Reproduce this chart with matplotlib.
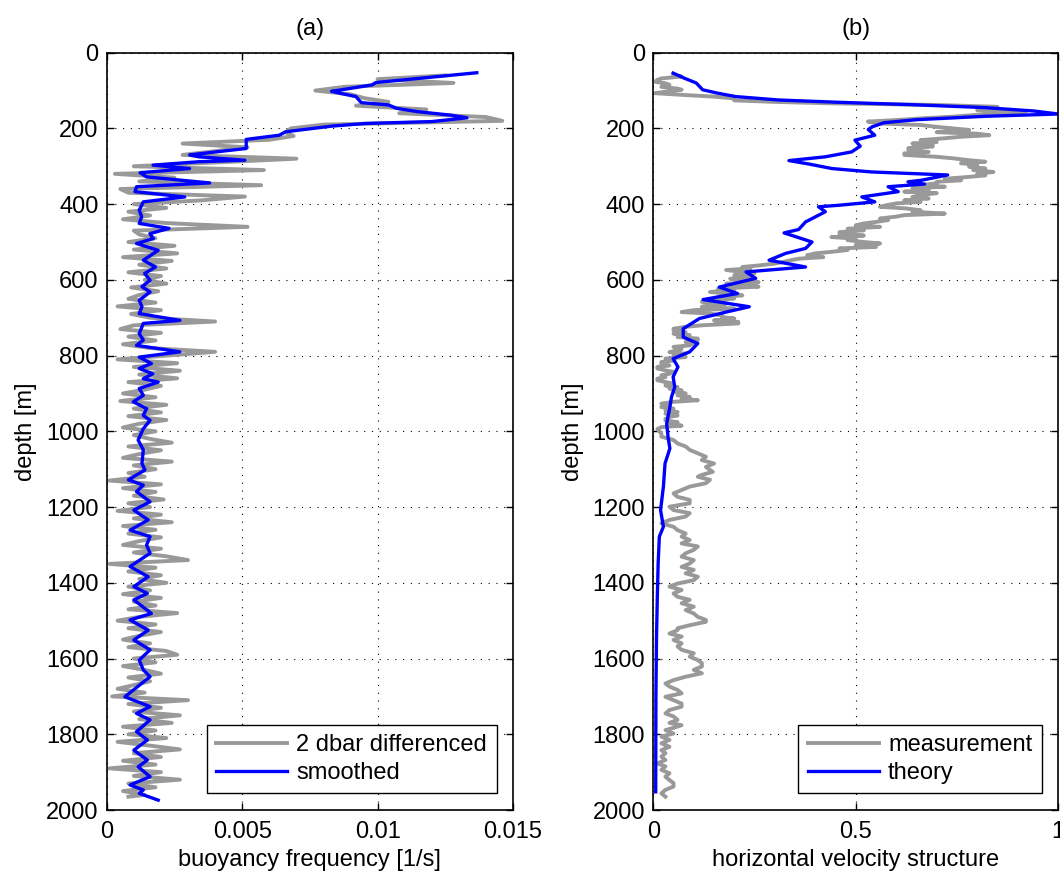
import numpy as np
import matplotlib
matplotlib.use("Agg")
import matplotlib.pyplot as plt

plt.rcParams['font.family'] = ['Liberation Sans', 'DejaVu Sans']
plt.rcParams['font.size'] = 17

# (a) buoyancy frequency, 2 dbar differenced
n_raw_depth = [60, 70, 80, 90, 100, 110, 120, 130, 140, 150, 160, 170, 180, 190, 200,
               210, 220, 230, 240, 250, 260, 270, 280, 290, 300, 310, 320, 330, 340, 350,
               360, 370, 380, 390, 400, 410, 420, 430, 440, 450, 460, 470, 480, 490, 500,
               510, 520, 530, 540, 550, 560, 570, 580, 590, 600, 610, 620, 630, 640, 650,
               660, 670, 680, 690, 700, 710, 720, 730, 740, 750, 760, 770, 780, 790, 800,
               810, 820, 830, 840, 850, 860, 870, 880, 890, 900, 910, 920, 930, 940, 950,
               960, 970, 980, 990, 1000, 1010, 1020, 1030, 1040, 1050, 1060, 1070, 1080,
               1090, 1100, 1110, 1120, 1130, 1140, 1150, 1160, 1170, 1180, 1190, 1200,
               1210, 1220, 1230, 1240, 1250, 1260, 1270, 1280, 1290, 1300, 1310, 1320,
               1330, 1340, 1350, 1360, 1370, 1380, 1390, 1400, 1410, 1420, 1430, 1440,
               1450, 1460, 1470, 1480, 1490, 1500, 1510, 1520, 1530, 1540, 1550, 1560,
               1570, 1580, 1590, 1600, 1610, 1620, 1630, 1640, 1650, 1660, 1670, 1680,
               1690, 1700, 1710, 1720, 1730, 1740, 1750, 1760, 1770, 1780, 1790, 1800,
               1810, 1820, 1830, 1840, 1850, 1860, 1870, 1880, 1890, 1900, 1910, 1920,
               1930, 1940, 1950, 1960, 1965]
n_raw = [0.0125, 0.0100, 0.0128, 0.0088, 0.0077, 0.0090, 0.0095, 0.0104, 0.0092, 0.0118,
         0.0108, 0.0140, 0.0146, 0.0080, 0.0068, 0.0066, 0.0069, 0.0060, 0.0028, 0.0052,
         0.0040, 0.0028, 0.0070, 0.0040, 0.0010, 0.0058, 0.0003, 0.0025, 0.0012, 0.0057,
         0.0005, 0.0008, 0.0051, 0.0035, 0.0010, 0.0022, 0.0008, 0.0016, 0.0006, 0.0022,
         0.0052, 0.0010, 0.0012, 0.0018, 0.0008, 0.0025, 0.0010, 0.0026, 0.0006, 0.0024,
         0.0012, 0.0022, 0.0008, 0.0020, 0.0014, 0.0022, 0.0009, 0.0019, 0.0012, 0.0008,
         0.0018, 0.0004, 0.0020, 0.0009, 0.0016, 0.0040, 0.0010, 0.0005, 0.0020, 0.0008,
         0.0018, 0.0006, 0.0016, 0.0040, 0.0022, 0.0004, 0.0026, 0.0010, 0.0027, 0.0012,
         0.0026, 0.0008, 0.0020, 0.0014, 0.0006, 0.0018, 0.0005, 0.0022, 0.0010, 0.0020,
         0.0008, 0.0022, 0.0012, 0.0006, 0.0018, 0.0010, 0.0016, 0.0024, 0.0008, 0.0020,
         0.0012, 0.0006, 0.0024, 0.0010, 0.0018, 0.0008, 0.0014, 0.0001, 0.0020, 0.0006,
         0.0018, 0.0010, 0.0021, 0.0008, 0.0016, 0.0004, 0.0020, 0.0010, 0.0024, 0.0006,
         0.0018, 0.0008, 0.0020, 0.0012, 0.0006, 0.0020, 0.0010, 0.0022, 0.0030, 0.0001,
         0.0018, 0.0008, 0.0020, 0.0012, 0.0022, 0.0008, 0.0016, 0.0006, 0.0020, 0.0010,
         0.0018, 0.0008, 0.0026, 0.0012, 0.0004, 0.0018, 0.0008, 0.0020, 0.0012, 0.0006,
         0.0016, 0.0008, 0.0022, 0.0026, 0.0010, 0.0018, 0.0006, 0.0014, 0.0020, 0.0008,
         0.0016, 0.0010, 0.0004, 0.0014, 0.0002, 0.0030, 0.0008, 0.0020, 0.0010, 0.0027,
         0.0012, 0.0024, 0.0006, 0.0018, 0.0008, 0.0022, 0.0004, 0.0016, 0.0027, 0.0010,
         0.0020, 0.0006, 0.0018, 0.0001, 0.0020, 0.0010, 0.0027, 0.0008, 0.0018, 0.0006,
         0.0014, 0.0008]

# (a) smoothed
n_smooth_depth = [53, 79, 85, 99, 102, 107, 116, 125, 132, 138, 147, 156, 165, 172, 182,
                  187, 194, 209, 218, 229, 240, 253, 270, 275, 284, 288, 297, 306, 317, 328,
                  344, 354, 367, 381, 394, 403, 416, 433, 451, 464, 478, 491, 504, 522, 548,
                  566, 583, 601, 618, 632, 654, 671, 689, 707, 715, 742, 759, 773, 790, 804,
                  821, 834, 848, 861, 870, 887, 905, 922, 940, 958, 971, 993, 1023, 1049,
                  1085, 1102, 1128, 1142, 1159, 1186, 1208, 1234, 1261, 1278, 1300, 1322,
                  1357, 1384, 1410, 1428, 1445, 1481, 1498, 1525, 1551, 1577, 1604, 1630,
                  1648, 1701, 1727, 1745, 1762, 1793, 1815, 1842, 1868, 1886, 1912, 1934,
                  1947, 1956, 1974]
n_smooth = [0.01366, 0.00993, 0.0098, 0.00858, 0.0083, 0.0086, 0.0092, 0.00931, 0.0094,
            0.0104, 0.0107, 0.0115, 0.0127, 0.0133, 0.0120, 0.00956, 0.0083, 0.0066,
            0.00637, 0.00515, 0.00515, 0.00515, 0.00306, 0.0034, 0.0051, 0.0034, 0.00171,
            0.00306, 0.00123, 0.00147, 0.0038, 0.0011, 0.00104, 0.00288, 0.00135, 0.00129,
            0.0012, 0.00129, 0.0012, 0.0023, 0.00159, 0.00172, 0.0011, 0.0019, 0.00135,
            0.0018, 0.0014, 0.0016, 0.0013, 0.0016, 0.0012, 0.0013, 0.0012, 0.0027,
            0.00135, 0.0012, 0.00135, 0.0011, 0.0027, 0.0012, 0.00165, 0.0012, 0.0017,
            0.00135, 0.0019, 0.0012, 0.00135, 0.00098, 0.00147, 0.00135, 0.0016, 0.00135,
            0.00116, 0.00135, 0.0013, 0.00141, 0.0008, 0.00135, 0.0011, 0.0016, 0.001,
            0.00153, 0.00086, 0.0016, 0.00147, 0.0016, 0.00086, 0.00153, 0.001, 0.0015,
            0.001, 0.00165, 0.00086, 0.00153, 0.001, 0.0016, 0.0012, 0.00135, 0.0016,
            0.00067, 0.0016, 0.0011, 0.0016, 0.0011, 0.0015, 0.001, 0.0015, 0.00116,
            0.0016, 0.00086, 0.00135, 0.0012, 0.0019]

# (b) measured horizontal velocity structure
u_meas_depth = [59, 63, 68, 72, 77, 81, 85, 90, 95, 98, 103, 107, 112, 116, 121, 126,
                130, 134, 138, 143, 148, 152, 156, 160, 164, 169, 173, 178, 182, 187, 191,
                196, 200, 204, 210, 214, 218, 222, 226, 231, 236, 240, 244, 248, 252, 257,
                262, 266, 270, 275, 279, 284, 288, 292, 296, 301, 306, 310, 315, 320, 324,
                328, 333, 337, 341, 345, 350, 354, 358, 363, 367, 371, 376, 381, 385, 390,
                394, 398, 402, 407, 411, 416, 420, 425, 429, 433, 438, 442, 447, 451, 456,
                460, 465, 469, 474, 478, 483, 487, 491, 495, 500, 504, 508, 513, 517, 521,
                526, 530, 535, 540, 544, 548, 553, 557, 562, 566, 570, 574, 579, 583, 588,
                592, 597, 601, 606, 610, 614, 618, 623, 627, 632, 636, 641, 645, 649, 654,
                658, 663, 667, 671, 676, 680, 685, 689, 694, 698, 702, 707, 711, 715, 720,
                724, 729, 733, 738, 742, 746, 751, 755, 759, 764, 768, 773, 777, 782, 786,
                791, 795, 800, 804, 808, 813, 817, 821, 826, 830, 834, 839, 843, 848, 852,
                857, 861, 865, 870, 874, 879, 883, 887, 892, 896, 900, 905, 909, 914, 918,
                922, 927, 931, 936, 940, 945, 949, 953, 958, 962, 967, 971, 976, 980, 985,
                989, 994, 1006, 1014, 1023, 1032, 1040, 1049, 1058, 1067, 1076, 1085, 1094,
                1102, 1107, 1115, 1120, 1128, 1137, 1146, 1155, 1164, 1173, 1181, 1190,
                1199, 1208, 1216, 1225, 1234, 1243, 1252, 1261, 1270, 1278, 1287, 1296,
                1304, 1313, 1322, 1331, 1340, 1349, 1358, 1366, 1375, 1384, 1393, 1402,
                1410, 1419, 1428, 1437, 1445, 1454, 1463, 1472, 1481, 1490, 1498, 1503,
                1512, 1520, 1525, 1534, 1542, 1551, 1560, 1568, 1577, 1586, 1595, 1604,
                1612, 1621, 1630, 1639, 1648, 1657, 1666, 1674, 1683, 1692, 1701, 1710,
                1719, 1727, 1736, 1745, 1753, 1762, 1770, 1776, 1783, 1789, 1798, 1806,
                1815, 1824, 1833, 1842, 1850, 1859, 1868, 1877, 1885, 1894, 1903, 1912,
                1921, 1929, 1938, 1947, 1956, 1965]
u_meas = [0.05, 0.07, 0.02, 0.01, 0.005, 0.03, 0.04, 0.02, 0.06, 0.07, 0.03, 0.005, 0.08,
          0.15, 0.20, 0.20, 0.30, 0.45, 0.70, 0.85, 0.84, 0.80, 0.92, 0.85, 0.80, 0.74,
          0.67, 0.60, 0.53, 0.56, 0.66, 0.70, 0.74, 0.78, 0.70, 0.80, 0.83, 0.76,
          0.72, 0.66, 0.70, 0.64, 0.69, 0.69, 0.63, 0.63, 0.68, 0.62, 0.62, 0.70, 0.74,
          0.78, 0.82, 0.76, 0.80, 0.78, 0.82, 0.79, 0.84, 0.80, 0.82, 0.78, 0.72, 0.76,
          0.70, 0.70, 0.66, 0.72, 0.64, 0.68, 0.62, 0.70, 0.66, 0.64, 0.68, 0.62, 0.66,
          0.60, 0.58, 0.56, 0.62, 0.66, 0.64, 0.72, 0.62, 0.60, 0.56, 0.58, 0.55, 0.52,
          0.50, 0.56, 0.48, 0.52, 0.46, 0.46, 0.52, 0.44, 0.50, 0.48, 0.52, 0.56, 0.50,
          0.55, 0.46, 0.48, 0.44, 0.40, 0.38, 0.42, 0.36, 0.34, 0.32, 0.30, 0.26, 0.22,
          0.24, 0.18, 0.22, 0.25, 0.20, 0.24, 0.19, 0.21, 0.26, 0.18, 0.24, 0.26, 0.16,
          0.20, 0.14, 0.18, 0.22, 0.16, 0.20, 0.16, 0.12, 0.18, 0.14, 0.12, 0.20, 0.10,
          0.07, 0.14, 0.17, 0.17, 0.20, 0.15, 0.21, 0.21, 0.12, 0.08, 0.05, 0.05, 0.08,
          0.05, 0.09, 0.06, 0.11, 0.11, 0.08, 0.10, 0.09, 0.05, 0.07, 0.06, 0.04, 0.08,
          0.05, 0.08, 0.03, 0.05, 0.02, 0.02, 0.04, 0.01, 0.01, 0.03, 0.05, 0.04, 0.02,
          0.03, 0.01, 0.01, 0.03, 0.05, 0.03, 0.06, 0.04, 0.07, 0.05, 0.08, 0.06, 0.09,
          0.07, 0.11, 0.05, 0.02, 0.04, 0.02, 0.05, 0.03, 0.06, 0.03, 0.06, 0.04, 0.03,
          0.03, 0.06, 0.04, 0.07, 0.02, 0.01, 0.02, 0.02, 0.05, 0.06, 0.08, 0.09, 0.11,
          0.13, 0.12, 0.15, 0.13, 0.14, 0.147, 0.12, 0.11, 0.14, 0.13, 0.09, 0.07, 0.05,
          0.06, 0.09, 0.09, 0.04, 0.05, 0.09, 0.08, 0.04, 0.02, 0.05, 0.06, 0.08, 0.07,
          0.09, 0.07, 0.11, 0.10, 0.08, 0.07, 0.10, 0.09, 0.07, 0.10, 0.08, 0.11, 0.10,
          0.06, 0.04, 0.07, 0.05, 0.06, 0.09, 0.07, 0.10, 0.08, 0.10, 0.11, 0.13, 0.13,
          0.09, 0.06, 0.06, 0.04, 0.07, 0.05, 0.07, 0.06, 0.07, 0.10, 0.09, 0.11, 0.12,
          0.12, 0.10, 0.12, 0.08, 0.05, 0.03, 0.04, 0.06, 0.07, 0.03, 0.05, 0.07, 0.07,
          0.04, 0.03, 0.05, 0.06, 0.04, 0.07, 0.05, 0.03, 0.05, 0.02, 0.04, 0.02, 0.04,
          0.02, 0.03, 0.02, 0.03, 0.01, 0.03, 0.02, 0.04, 0.03, 0.04, 0.05, 0.05, 0.03,
          0.02, 0.03]

# (b) theory
u_theory_depth = [54, 68, 80, 98, 107, 116, 125, 131, 138, 145, 154, 162, 168, 177, 185,
                  196, 203, 218, 231, 247, 262, 275, 285, 294, 306, 315, 323, 337, 341, 347,
                  354, 367, 381, 394, 403, 407, 420, 447, 467, 476, 500, 517, 530, 548, 566,
                  579, 596, 619, 636, 652, 671, 685, 702, 729, 751, 768, 790, 808, 830, 856,
                  883, 909, 936, 980, 1019, 1045, 1085, 1146, 1208, 1252, 1278, 1349, 1437,
                  1542, 1701, 1952]
u_theory = [0.049, 0.078, 0.106, 0.122, 0.159, 0.204, 0.31, 0.457, 0.654, 0.817, 0.94,
            1.0, 0.82, 0.65, 0.57, 0.54, 0.531, 0.547, 0.498, 0.511, 0.490, 0.425, 0.335,
            0.384, 0.441, 0.539, 0.727, 0.662, 0.629, 0.670, 0.580, 0.605, 0.515, 0.547,
            0.458, 0.408, 0.425, 0.376, 0.359, 0.323, 0.392, 0.376, 0.327, 0.286, 0.376,
            0.229, 0.253, 0.163, 0.208, 0.123, 0.237, 0.180, 0.114, 0.074, 0.074, 0.110,
            0.090, 0.049, 0.061, 0.049, 0.053, 0.045, 0.041, 0.033, 0.037, 0.041, 0.029,
            0.025, 0.018, 0.025, 0.015, 0.012, 0.010, 0.008, 0.0065, 0.006]

depth_ticks = [0, 200, 400, 600, 800, 1000, 1200, 1400, 1600, 1800, 2000]

gray = '#999999'
blue = '#0000ff'


def style_axes(ax):
    ax.set_ylim(2000, 0)
    ax.set_yticks(depth_ticks)
    ax.grid(True, color='k', linestyle=(0, (1, 6)), linewidth=0.8)
    ax.tick_params(direction='in', top=True, right=True, length=5, width=1,
                   labelsize=17, pad=6)
    ax.tick_params(axis='x', pad=8)
    for s in ax.spines.values():
        s.set_linewidth(1.2)
    ax.set_ylabel('depth [m]', fontsize=17, labelpad=6)


def add_legend(ax):
    leg = ax.legend(loc='lower right', fancybox=False, edgecolor='k', framealpha=1,
                    handlelength=3.0, handletextpad=0.4, labelspacing=0.25,
                    borderaxespad=0.7, borderpad=0.4, fontsize=17)
    leg.get_frame().set_linewidth(1.0)


fig = plt.figure(figsize=(10.6, 8.72), dpi=100)

ax1 = fig.add_axes([0.1007, 0.0711, 0.3833, 0.8685])
ax1.plot(n_raw, n_raw_depth, color=gray, lw=2.8, label='2 dbar differenced')
ax1.plot(n_smooth, n_smooth_depth, color=blue, lw=2.4, label='smoothed')
ax1.set_xlim(0, 0.015)
ax1.set_xticks([0, 0.005, 0.01, 0.015])
ax1.set_xticklabels(['0', '0.005', '0.01', '0.015'])
style_axes(ax1)
ax1.set_xlabel('buoyancy frequency [1/s]', fontsize=17, labelpad=4)
ax1.set_title('(a)', fontsize=17, pad=13)
add_legend(ax1)

ax2 = fig.add_axes([0.6163, 0.0711, 0.3820, 0.8685])
ax2.plot(u_meas, u_meas_depth, color=gray, lw=2.8, label='measurement')
ax2.plot(u_theory, u_theory_depth, color=blue, lw=2.4, label='theory')
ax2.set_xlim(0, 1)
ax2.set_xticks([0, 0.5, 1])
ax2.set_xticklabels(['0', '0.5', '1'])
style_axes(ax2)
ax2.set_xlabel('horizontal velocity structure', fontsize=17, labelpad=4)
ax2.set_title('(b)', fontsize=17, pad=13)
add_legend(ax2)

fig.savefig('out.png', dpi=100)
